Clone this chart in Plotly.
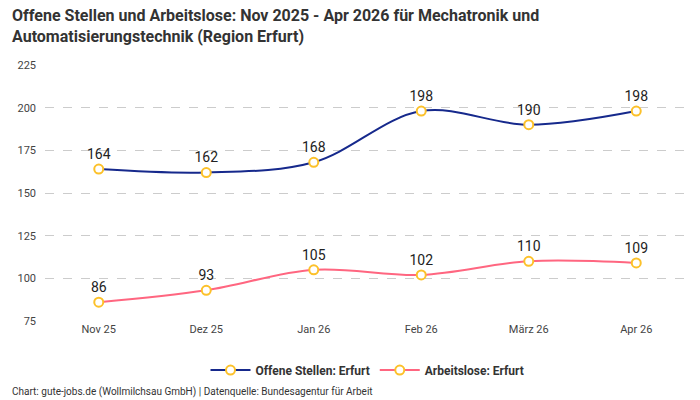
import plotly.graph_objects as go

months = ["Nov 25", "Dez 25", "Jan 26", "Feb 26", "März 26", "Apr 26"]
offene = [164, 162, 168, 198, 190, 198]
arbeitslose = [86, 93, 105, 102, 110, 109]
y_ticks = [75, 100, 125, 150, 175, 200, 225]

FONT = "Roboto, Open Sans, sans-serif"
fig = go.Figure()
for name, vals, col in [("Offene Stellen: Erfurt", offene, "#16298c"),
                        ("Arbeitslose: Erfurt", arbeitslose, "#ff6680")]:
    fig.add_trace(go.Scatter(
        x=months, y=vals, name=name, mode="lines+markers+text",
        line=dict(color=col, width=2, shape="spline", smoothing=1),
        marker=dict(size=9, color="white", line=dict(color="#fcc12a", width=2)),
        text=[str(v) for v in vals], textposition="top center",
        textfont=dict(size=14, color="#222", family=FONT),
    ))

fig.update_layout(
    width=700, height=400,
    margin=dict(l=45, r=10, t=65, b=79),
    paper_bgcolor="white", plot_bgcolor="white",
    font=dict(family=FONT, color="#444"),
    xaxis=dict(range=[-0.5, 5.5], showgrid=False, showline=False, ticks="",
               tickfont=dict(size=11, color="#444")),
    yaxis=dict(range=[75, 225], tickvals=y_ticks, showgrid=True, gridcolor="#cccccc",
               griddash="dash", zeroline=False, tickfont=dict(size=11, color="#444"),
               ticklabelstandoff=8),
    legend=dict(orientation="h", x=0.5, xanchor="center", y=-0.135, yanchor="top",
                font=dict(size=12, color="#333", family=FONT, weight="bold"), itemwidth=40),
    showlegend=True,
)
fig.add_annotation(text="<b>Offene Stellen und Arbeitslose: Nov 2025 - Apr 2026 für Mechatronik und<br>Automatisierungstechnik (Region Erfurt)</b>",
                   xref="paper", yref="paper", x=-0.054, y=1.238, xanchor="left", yanchor="top",
                   align="left", showarrow=False, font=dict(size=16, color="#333", family=FONT))
fig.add_annotation(text="Chart: gute-jobs.de (Wollmilchsau GmbH) | Datenquelle: Bundesagentur für Arbeit",
                   xref="paper", yref="paper", x=-0.054, y=-0.248, xanchor="left", yanchor="top",
                   showarrow=False, font=dict(size=10, color="#333", family=FONT))
fig.write_html("out.html")
